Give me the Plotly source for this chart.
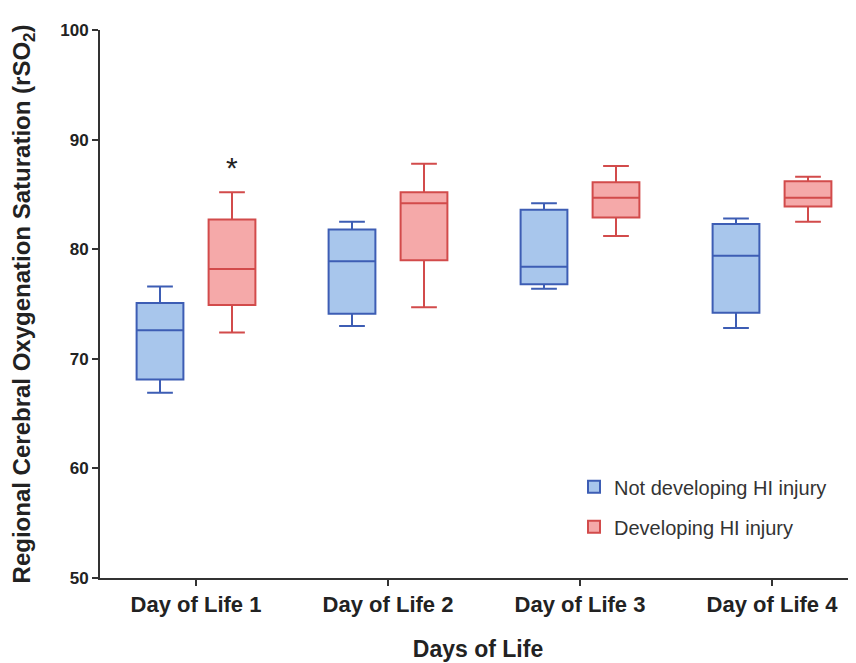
import plotly.graph_objects as go

days = ["Day of Life 1", "Day of Life 2", "Day of Life 3", "Day of Life 4"]

# Not developing HI injury
not_low = [66.9, 73.0, 76.4, 72.8]
not_q1 = [68.1, 74.1, 76.8, 74.2]
not_med = [72.6, 78.9, 78.4, 79.4]
not_q3 = [75.1, 81.8, 83.6, 82.3]
not_high = [76.6, 82.5, 84.2, 82.8]

# Developing HI injury
dev_low = [72.4, 74.7, 81.2, 82.5]
dev_q1 = [74.9, 79.0, 82.9, 83.9]
dev_med = [78.2, 84.2, 84.7, 84.7]
dev_q3 = [82.7, 85.2, 86.1, 86.2]
dev_high = [85.2, 87.8, 87.6, 86.6]

FONT = "Liberation Sans, Arial, sans-serif"

fig = go.Figure()
fig.add_trace(go.Box(
    name="Not developing HI injury", x=days,
    q1=not_q1, median=not_med, q3=not_q3,
    lowerfence=not_low, upperfence=not_high,
    fillcolor="#a8c6ec", line=dict(color="#3d5db4", width=2),
    whiskerwidth=0.55, legendgroup="a",
))
fig.add_trace(go.Box(
    name="Developing HI injury", x=days,
    q1=dev_q1, median=dev_med, q3=dev_q3,
    lowerfence=dev_low, upperfence=dev_high,
    fillcolor="#f5a9a9", line=dict(color="#d24b4b", width=2),
    whiskerwidth=0.55, legendgroup="b",
))

fig.add_annotation(x="Day of Life 1", y=87.5, xshift=36, text="*",
                   showarrow=False, font=dict(size=30, color="#222", family=FONT))

fig.update_layout(
    width=856, height=663,
    margin=dict(l=92, r=8, t=22, b=93),
    paper_bgcolor="white", plot_bgcolor="white",
    boxmode="group", boxgap=0.25, boxgroupgap=0.35,
    font=dict(family=FONT, color="#222"),
    legend=dict(x=0.627, y=0.202, xanchor="left", yanchor="top",
                font=dict(size=20, color="#333"), tracegroupgap=11,
                traceorder="grouped", bgcolor="rgba(0,0,0,0)"),
    xaxis=dict(
        range=[-0.5, 3.4375], showline=True, linecolor="#333", linewidth=2,
        ticks="outside", ticklen=6, tickwidth=2, tickcolor="#333",
        tickfont=dict(size=22, family=FONT, color="#222", weight="bold"),
        title=dict(text="<b>Days of Life</b>", font=dict(size=23, family=FONT), standoff=24),
        showgrid=False, zeroline=False, automargin=False,
    ),
    yaxis=dict(
        range=[50, 100], tickvals=[50, 60, 70, 80, 90, 100],
        showline=True, linecolor="#333", linewidth=2,
        ticks="outside", ticklen=6, tickwidth=2, tickcolor="#333",
        tickfont=dict(size=17, family=FONT, color="#222", weight="bold"),
        title=dict(text="<b>Regional Cerebral Oxygenation Saturation (rSO<sub>2</sub>)</b>",
                   font=dict(size=24, family=FONT), standoff=26),
        showgrid=False, zeroline=False, automargin=False,
    ),
)

fig.write_html("out.html")
